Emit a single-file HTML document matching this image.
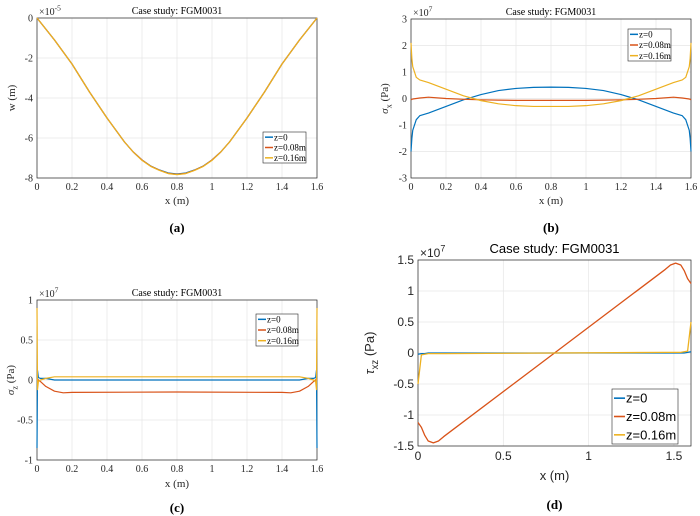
<!DOCTYPE html>
<html><head><meta charset="utf-8"><style>
body{margin:0;background:#fff}
svg{display:block}
</style></head><body>
<svg id="fig" width="700" height="516" viewBox="0 0 700 516" xmlns="http://www.w3.org/2000/svg"></svg>
<script>
// ---- data (a) deflection w, x1e-5 ----
const xsA = [0,0.05,0.1,0.15,0.2,0.25,0.3,0.35,0.4,0.45,0.5,0.55,0.6,0.65,0.7,0.75,0.8,0.85,0.9,0.95,1.0,1.05,1.1,1.15,1.2,1.25,1.3,1.35,1.4,1.45,1.5,1.55,1.6];
const wZ0 = [0,-0.55,-1.1,-1.7,-2.3,-3.0,-3.7,-4.35,-5.0,-5.6,-6.2,-6.7,-7.1,-7.4,-7.6,-7.75,-7.8,-7.75,-7.6,-7.4,-7.1,-6.7,-6.2,-5.6,-5.0,-4.35,-3.7,-3.0,-2.3,-1.7,-1.1,-0.55,0];
const wZ08 = [0,-0.55,-1.1,-1.7,-2.3,-3.0,-3.7,-4.35,-5.0,-5.6,-6.2,-6.7,-7.1,-7.41,-7.61,-7.77,-7.82,-7.77,-7.61,-7.41,-7.1,-6.7,-6.2,-5.6,-5.0,-4.35,-3.7,-3.0,-2.3,-1.7,-1.1,-0.55,0];
const wZ16 = [0,-0.55,-1.1,-1.7,-2.3,-3.0,-3.7,-4.35,-5.0,-5.6,-6.2,-6.7,-7.12,-7.42,-7.62,-7.78,-7.83,-7.78,-7.62,-7.42,-7.12,-6.7,-6.2,-5.6,-5.0,-4.35,-3.7,-3.0,-2.3,-1.7,-1.1,-0.55,0];
// ---- data (b) sigma_x, x1e7 ----
const xsB = [0,0.005,0.01,0.03,0.05,0.1,0.2,0.3,0.4,0.5,0.6,0.7,0.8,0.9,1.0,1.1,1.2,1.3,1.4,1.5,1.55,1.57,1.59,1.595,1.6];
const sxZ0 = [-2.0,-1.5,-1.2,-0.8,-0.65,-0.55,-0.3,-0.05,0.15,0.3,0.38,0.42,0.43,0.42,0.38,0.3,0.15,-0.05,-0.3,-0.55,-0.65,-0.8,-1.2,-1.5,-2.0];
const sxZ08 = [-0.05,-0.03,-0.02,0.0,0.02,0.05,0.0,-0.03,-0.05,-0.06,-0.07,-0.07,-0.07,-0.07,-0.07,-0.06,-0.05,-0.03,0.0,0.05,0.02,0.0,-0.02,-0.03,-0.05];
const sxZ16 = [2.1,1.5,1.2,0.8,0.7,0.6,0.35,0.1,-0.08,-0.2,-0.27,-0.3,-0.3,-0.3,-0.27,-0.2,-0.08,0.1,0.35,0.6,0.7,0.8,1.2,1.5,2.1];
// ---- data (c) sigma_z, x1e7 ----
const xsC = [0,0.003,0.008,0.02,0.05,0.1,0.15,0.2,0.8,1.4,1.45,1.5,1.55,1.58,1.592,1.597,1.6];
const szZ0 = [-0.85,0.12,0.03,0.02,0.02,0.0,0.0,0.0,0.0,0.0,0.0,0.0,0.02,0.02,0.03,0.12,-0.85];
const szZ08 = [0.0,0.01,0.0,-0.02,-0.08,-0.14,-0.16,-0.155,-0.15,-0.155,-0.16,-0.14,-0.08,-0.02,0.0,0.01,0.0];
const szZ16 = [0.9,-0.12,-0.02,0.0,0.02,0.04,0.04,0.04,0.04,0.04,0.04,0.04,0.02,0.0,-0.02,-0.12,0.9];
// ---- data (d) tau_xz, x1e7 ----
const xsD = [0,0.02,0.04,0.06,0.09,0.12,0.15,0.8,1.45,1.48,1.51,1.54,1.56,1.58,1.6];
const txZ0 = [-0.02,-0.01,-0.01,0,0,0,0,0,0,0,0,0,0,0.01,0.02];
const txZ08 = [-1.12,-1.2,-1.33,-1.42,-1.45,-1.42,-1.35,0,1.35,1.42,1.45,1.42,1.33,1.2,1.12];
const txZ16 = [-0.5,-0.03,-0.02,-0.01,-0.01,-0.01,-0.01,0,0.01,0.01,0.01,0.01,0.02,0.03,0.5];
const legendLabels = ['z=0','z=0.08m','z=0.16m'];
const colors = ['#0072BD','#D95319','#EDB120'];
const xTicksA = [0,0.2,0.4,0.6,0.8,1,1.2,1.4,1.6];
const xTicksD = [0,0.5,1,1.5];
const yTicksA = [0,-2,-4,-6,-8];
const yTicksB = [3,2,1,0,-1,-2,-3];
const yTicksC = [1,0.5,0,-0.5,-1];
const yTicksD = [1.5,1,0.5,0,-0.5,-1,-1.5];

const NS='http://www.w3.org/2000/svg';
const svg=document.getElementById('fig');
function mk(tag,attrs,parent,text){const e=document.createElementNS(NS,tag);for(const k in attrs)e.setAttribute(k,attrs[k]);if(text!==undefined)e.textContent=text;(parent||svg).appendChild(e);return e;}

function panel(o){
  const g=mk('g',{});
  
  
  const sx=v=>o.x0+(v-o.xmin)/(o.xmax-o.xmin)*(o.x1-o.x0);
  const sy=v=>o.y0+(o.ymax-v)/(o.ymax-o.ymin)*(o.y1-o.y0);
  const ff=o.font, fs=o.fs;
  o.xticks.forEach(t=>{const l=mk('line',{x1:sx(t),x2:sx(t),y1:o.y0,y2:o.y1,stroke:'#e6e6e6','stroke-width':0.7},g);
    });
  o.yticks.forEach(t=>{const l=mk('line',{x1:o.x0,x2:o.x1,y1:sy(t),y2:sy(t),stroke:'#e6e6e6','stroke-width':0.7},g);
    });
  const box=mk('rect',{x:o.x0,y:o.y0,width:o.x1-o.x0,height:o.y1-o.y0,fill:'none',stroke:'#262626','stroke-width':0.7},g);
  
  o.xticks.forEach(t=>{const e=mk('text',{x:sx(t),y:o.y1+fs+2,'text-anchor':'middle','font-family':ff,'font-size':fs,fill:'#262626'},g,String(t));
    });
  o.yticks.forEach(t=>{const e=mk('text',{x:o.x0-4,y:sy(t)+fs*0.35,'text-anchor':'end','font-family':ff,'font-size':fs,fill:'#262626'},g,String(t));
    });
  o.series.forEach((s,i)=>{
    const d=s.map((v,j)=>(j?'L':'M')+sx(o.xs[j]).toFixed(2)+','+sy(v).toFixed(2)).join('');
    const p=mk('path',{d:d,fill:'none',stroke:colors[i],'stroke-width':o.lw,'stroke-linejoin':'round'},g);
    
    
  });
  const ti=mk('text',{x:(o.x0+o.x1)/2,y:o.y0-o.tdy,'text-anchor':'middle','font-family':ff,'font-size':o.tfs,fill:'#000'},g,'Case study: FGM0031');
  
  const ex=mk('text',{x:o.x0+2,y:o.y0-3,'font-family':ff,'font-size':fs,fill:'#262626'},g);
  
  mk('tspan',{},ex,'×10');mk('tspan',{dy:-o.fs*0.45,'font-size':fs*0.75},ex,o.exp);
  const xl=mk('text',{x:(o.x0+o.x1)/2,y:o.xly,'text-anchor':'middle','font-family':ff,'font-size':o.lfs,fill:'#262626'},g,'x (m)');
  
  const yl=mk('text',{x:0,y:0,transform:`translate(${o.ylx},${(o.y0+o.y1)/2}) rotate(-90)`,'text-anchor':'middle','font-family':ff,'font-size':o.lfs,fill:'#262626'},g);
  
  if(o.ysub){mk('tspan',{'font-style':'italic'},yl,o.ysym);mk('tspan',{dy:o.lfs*0.3,'font-size':o.lfs*0.75},yl,o.ysub);mk('tspan',{dy:-o.lfs*0.3},yl,' (Pa)');}
  else yl.textContent=o.ysym;
  const cap=mk('text',{x:(o.x0+o.x1)/2,y:o.capy,'text-anchor':'middle','font-family':'Liberation Serif, serif','font-size':13,'font-weight':'bold',fill:'#000'},g,o.cap);
  
  const L=o.leg;
  const lg=mk('g',{},g);
  mk('rect',{x:L.x,y:L.y,width:L.w,height:L.h,fill:'#fff',stroke:'#262626','stroke-width':0.6},lg);
  legendLabels.forEach((lab,i)=>{const yy=L.y+L.h*(i+0.5)/3;
    const ln=mk('line',{x1:L.x+2,x2:L.x+L.sw,y1:yy,y2:yy,stroke:colors[i],'stroke-width':o.lw+0.3},lg);
    
    const t=mk('text',{x:L.x+L.sw+1,y:yy+L.fs*0.35,'font-family':ff,'font-size':L.fs,fill:'#000'},lg,lab);
    });
}
const serif='Liberation Serif, serif', sans='Liberation Sans, sans-serif';
panel({name:'panel-a-deflection',x0:37,x1:317,y0:18,y1:178,xmin:0,xmax:1.6,ymin:-8,ymax:0,xs:xsA,series:[wZ0,wZ08,wZ16],
  xticks:xTicksA,yticks:yTicksA,font:serif,fs:10,tfs:10,tdy:4,lfs:11,lw:1.2,exp:'-5',ysym:'w (m)',ylx:15,xly:204,capy:232,cap:'(a)',
  leg:{x:263,y:132,w:43,h:31,sw:10,fs:9}});
panel({name:'panel-b-sigma-x',x0:411,x1:691,y0:19,y1:178,xmin:0,xmax:1.6,ymin:-3,ymax:3,xs:xsB,series:[sxZ0,sxZ08,sxZ16],
  xticks:xTicksA,yticks:yTicksB,font:serif,fs:10,tfs:10,tdy:4,lfs:11,lw:1.2,exp:'7',ysym:'σ',ysub:'x',ylx:388,xly:204,capy:232,cap:'(b)',
  leg:{x:628,y:29,w:43,h:32,sw:10,fs:9}});
panel({name:'panel-c-sigma-z',x0:37,x1:317,y0:300,y1:460,xmin:0,xmax:1.6,ymin:-1,ymax:1,xs:xsC,series:[szZ0,szZ08,szZ16],
  xticks:xTicksA,yticks:yTicksC,font:serif,fs:10,tfs:10,tdy:4,lfs:11,lw:1.2,exp:'7',ysym:'σ',ysub:'z',ylx:14,xly:487,capy:512,cap:'(c)',
  leg:{x:256,y:314,w:42,h:32,sw:10,fs:9}});
panel({name:'panel-d-tau-xz',x0:418,x1:691,y0:260,y1:446,xmin:0,xmax:1.6,ymin:-1.5,ymax:1.5,xs:xsD,series:[txZ0,txZ08,txZ16],
  xticks:xTicksD,yticks:yTicksD,font:sans,fs:12,tfs:13,tdy:7,lfs:13,lw:1.3,exp:'7',ysym:'τ',ysub:'xz',ylx:374,xly:480,capy:509,cap:'(d)',
  leg:{x:612,y:389,w:66,h:55,sw:13,fs:13}});
</script>
</body></html>
